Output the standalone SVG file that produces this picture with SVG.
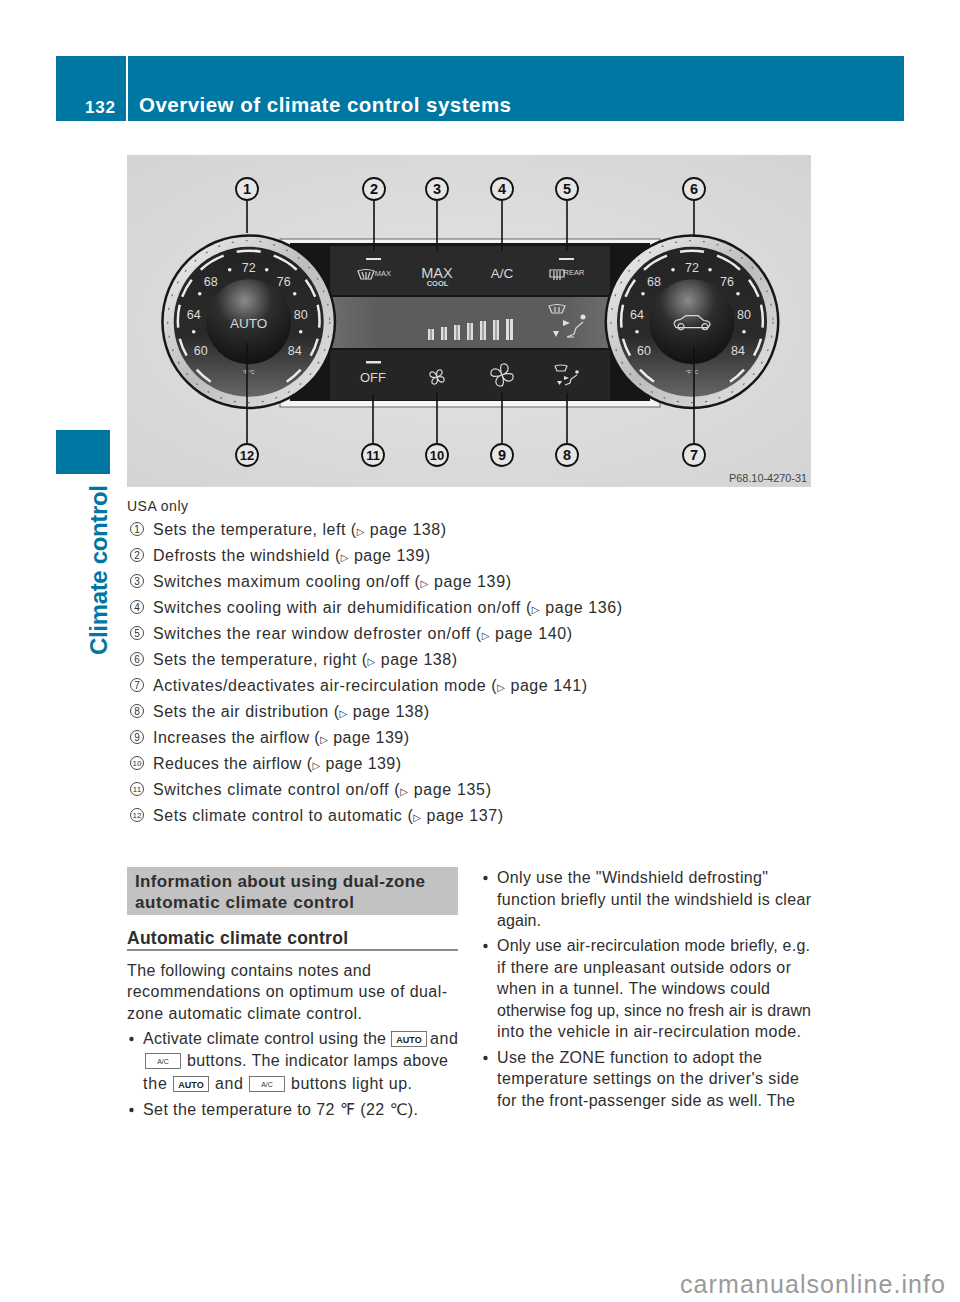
<svg xmlns="http://www.w3.org/2000/svg" xmlns:xlink="http://www.w3.org/1999/xlink" width="960" height="1302" viewBox="0 0 960 1302">
<style>
.t{font-family:"Liberation Sans",Arial,"DejaVu Sans",sans-serif;font-size:16px;fill:#2e2e2e}
.b{font-weight:bold}
.tri{font-family:"DejaVu Sans",sans-serif;font-size:10px}
.lm{fill:none;stroke:#333;stroke-width:.9}
.ln{font-family:"Liberation Sans",sans-serif;font-size:10px;fill:#333;text-anchor:middle}
.cc{fill:#e6e6e6;stroke:#111;stroke-width:1.8}
.cn{font-family:"Liberation Sans",sans-serif;font-size:14.5px;font-weight:bold;fill:#111;text-anchor:middle}
.con{stroke:#111;stroke-width:1.6;fill:none}
.dn{font-family:"Liberation Sans",sans-serif;font-size:12.5px;fill:#dcdcdc;text-anchor:middle}
.pl{font-family:"Liberation Sans",sans-serif;fill:#d6d6d6;text-anchor:middle}
.ic{fill:none;stroke:#d8d8d8;stroke-width:1.2}
.bar{fill:#dedede}
.barc{stroke:#666;stroke-width:1}
.key{fill:#fff;stroke:#555;stroke-width:.8}
.kt{font-family:"Liberation Sans",sans-serif;font-weight:bold;font-size:9px;fill:#222;text-anchor:middle}
.kt2{font-family:"Liberation Sans",sans-serif;font-size:7px;fill:#333;text-anchor:middle}
</style>
<defs>
<radialGradient id="bg" cx=".5" cy=".5" r=".7"><stop offset="0" stop-color="#e4e4e4"/><stop offset="1" stop-color="#d4d4d4"/></radialGradient>
<linearGradient id="ring" x1="0" y1="0" x2="1" y2="1"><stop offset="0" stop-color="#f2f2f2"/><stop offset=".5" stop-color="#bdbdbd"/><stop offset="1" stop-color="#e6e6e6"/></linearGradient>
<linearGradient id="face" x1="0" y1="0" x2="0" y2="1"><stop offset="0" stop-color="#242424"/><stop offset=".6" stop-color="#2a2a2a"/><stop offset="1" stop-color="#666"/></linearGradient>
<radialGradient id="knob" cx=".45" cy=".25" r=".8"><stop offset="0" stop-color="#8a8a8a"/><stop offset=".4" stop-color="#2e2e2e"/><stop offset="1" stop-color="#0e0e0e"/></radialGradient>
<linearGradient id="mid" x1="0" y1="0" x2="1" y2="0"><stop offset="0" stop-color="#7a7a7a"/><stop offset=".25" stop-color="#5c5c5c"/><stop offset=".75" stop-color="#5c5c5c"/><stop offset="1" stop-color="#7a7a7a"/></linearGradient>
<g id="dial">
<circle r="87.500" fill="#161616"/>
<circle r="85" fill="url(#ring)"/>
<circle r="81" fill="none" stroke="#6e6e6e" stroke-width="1.200" stroke-dasharray="2 12"/>
<circle r="75" fill="url(#face)"/>
<path d="M-12-70A71 71 0 0 1 12-70M-48-52A71 71 0 0 1-25-66M48-52A71 71 0 0 0 25-66M-66.500-25A71 71 0 0 1-57-42M66.500-25A71 71 0 0 0 57-42M-70.500 6A71 71 0 0 1-69-17M70.500 6A71 71 0 0 0 69-17M-62 34A71 71 0 0 1-69 17M62 34A71 71 0 0 0 69 17M-38 60A71 71 0 0 1-52 48M38 60A71 71 0 0 0 52 48" fill="none" stroke="#ececec" stroke-width="2.500"/>
<circle r="42.500" fill="url(#knob)"/>
<g fill="#f0f0f0">
<circle cx="-19" cy="-52" r="1.800"/><circle cx="18" cy="-52" r="1.800"/>
<circle cx="-49" cy="-28" r="1.800"/><circle cx="46" cy="-28" r="1.800"/>
<circle cx="-55" cy="10" r="1.800"/><circle cx="52" cy="10" r="1.800"/></g>
<text class="dn" y="-50">72</text>
<text class="dn" x="-38" y="-36">68</text>
<text class="dn" x="35" y="-36">76</text>
<text class="dn" x="-55" y="-3">64</text>
<text class="dn" x="52" y="-3">80</text>
<text class="dn" x="-48" y="33">60</text>
<text class="dn" x="46" y="33">84</text>
<text class="pl" y="52" font-size="5">°F °C</text>
</g>
</defs>

<g id="page">
<rect width="960" height="1302" fill="#fff"/>
<rect x="56" y="56" width="848" height="65" fill="#0077a3"/>
<rect x="126" y="56" width="2" height="65" fill="#fff"/>
<text x="85" y="113" class="t b" style="fill:#fff;font-size:17px" textLength="30">132</text>
<text x="139" y="112" class="t b" style="fill:#fff;font-size:20.500px" textLength="372">Overview of climate control systems</text>
<rect x="56" y="430" width="54" height="44" fill="#0077a3"/>
<text transform="translate(107,655) rotate(-90)" class="t b" style="fill:#0077a3;font-size:24px" textLength="170">Climate control</text>
</g>

<g id="photo">
<rect x="127" y="155" width="684" height="332" fill="url(#bg)"/>
<rect x="280" y="239" width="380" height="168" fill="#f4f4f4" stroke="#666" stroke-width="1"/>
<rect x="290" y="243" width="360" height="158" fill="#161616"/>
<rect x="330" y="246" width="280" height="49" fill="#2a2a2a"/>
<rect x="290" y="297" width="360" height="51" fill="url(#mid)"/>
<rect x="330" y="350" width="280" height="50" fill="#252525"/>
<g id="bars">
<rect class="bar" x="428" y="329" width="6" height="11"/><rect class="bar" x="441" y="327" width="6" height="13"/><rect class="bar" x="454" y="325" width="6" height="15"/><rect class="bar" x="467" y="323" width="6" height="17"/><rect class="bar" x="480" y="321" width="6" height="19"/><rect class="bar" x="493" y="320" width="6" height="20"/><rect class="bar" x="506" y="319" width="7" height="21"/>
<path class="barc" d="M431 329v11M444 327v13M457 325v15M470 323v17M483 321v19M496 320v20M509.500 319v21"/>
</g>
<g fill="#e4e4e4">
<rect x="366" y="258" width="15" height="2"/><rect x="366" y="361" width="15" height="2.500"/><rect x="559" y="258" width="15" height="2"/>
</g>
<g id="icons">
<path class="ic" d="M358 271q8-3 16 0l-3 8h-10zM362 272l2 6M366 272v7M370 272l-2 6"/>
<text class="pl" x="383" y="276" font-size="7.500">MAX</text>
<text class="pl" x="437" y="278" font-size="14.500">MAX</text>
<text class="pl" x="437.500" y="285.500" font-size="7.500" font-weight="bold">COOL</text>
<text class="pl" x="502" y="278" font-size="13.500">A/C</text>
<path class="ic" d="M550 270h14v7h-14zM554 271v9M557 271v9M560 271v9"/>
<text class="pl" x="574" y="274.500" font-size="7.500">REAR</text>
<text class="pl" x="373" y="382" font-size="13">OFF</text>
<path class="ic" stroke-width="1.300" d="M437 377c-2-7-8-6-7-2 0 2 3 3 7 2zM437 377c7-2 6-8 2-7-2 0-3 3-2 7zM437 377c2 7 8 6 7 2 0-2-3-3-7-2zM437 377c-7 2-6 8-2 7 2 0 3-3 2-7z"/>
<path class="ic" stroke-width="1.500" d="M502 375c-3-9-12-7-11-1 0 3 6 3 11 1zM502 375c9-3 7-12 1-11-3 0-3 6-1 11zM502 375c3 9 12 7 11 1 0-3-6-3-11-1zM502 375c-9 3-7 12-1 11 3 0 3-6 1-11z"/>
<path class="ic" d="M549 306q8-3 16 0l-3 7h-10zM555 307v5M559 307v5"/>
<path class="ic" stroke-width="2.500" d="M567 337l7-3 2-6 7-6M567 337h7"/>
<circle cx="583" cy="317" r="2.500" fill="#e0e0e0"/>
<path d="M563 320l7 3-7 3zM553 331h6l-3 6z" fill="#e0e0e0"/>
<path class="ic" d="M555 366q6-2 12 0l-2 5h-8z"/>
<path class="ic" stroke-width="2" d="M565 385l5-2 1-4 6-4"/>
<circle cx="577" cy="372" r="1.800" fill="#e0e0e0"/>
<path d="M564 376l5 2-5 2zM557 381h5l-2.500 4z" fill="#e0e0e0"/>
</g>
<g id="dial-left" transform="translate(248.700,321.700)"><use xlink:href="#dial" href="#dial"/>
<text class="pl" y="6.500" font-size="13.500">AUTO</text></g>
<g id="dial-right" transform="translate(692,321.700)"><use xlink:href="#dial" href="#dial"/>
<path class="ic" d="M-18 2q1-4 6-4l6-4h12l6 5q6 0 6 4l-2 3h-32zM-14 5a3 3 0 1 0 6 0a3 3 0 1 0-6 0M10 5a3 3 0 1 0 6 0a3 3 0 1 0-6 0"/></g>
<text x="729" y="482" font-family="Liberation Sans,sans-serif" font-size="10" fill="#444" textLength="78" lengthAdjust="spacingAndGlyphs">P68.10-4270-31</text>
</g>

<g id="connectors">
<path class="con" d="M247 201v32M374 201v50M437 201v50M502 201v50M567 201v50M694 201v36M247 443V343M373 443v-49M437 443v-50M502 443v-50M567 443v-50M694 443V347"/>
</g>
<g id="callout-1"><circle class="cc" cx="247" cy="189" r="11"/><text class="cn" x="247" y="194">1</text></g>
<g id="callout-2"><circle class="cc" cx="374" cy="189" r="11"/><text class="cn" x="374" y="194">2</text></g>
<g id="callout-3"><circle class="cc" cx="437" cy="189" r="11"/><text class="cn" x="437" y="194">3</text></g>
<g id="callout-4"><circle class="cc" cx="502" cy="189" r="11"/><text class="cn" x="502" y="194">4</text></g>
<g id="callout-5"><circle class="cc" cx="567" cy="189" r="11"/><text class="cn" x="567" y="194">5</text></g>
<g id="callout-6"><circle class="cc" cx="694" cy="189" r="11"/><text class="cn" x="694" y="194">6</text></g>
<g id="callout-7"><circle class="cc" cx="694" cy="455" r="11"/><text class="cn" x="694" y="460">7</text></g>
<g id="callout-8"><circle class="cc" cx="567" cy="455" r="11"/><text class="cn" x="567" y="460">8</text></g>
<g id="callout-9"><circle class="cc" cx="502" cy="455" r="11"/><text class="cn" x="502" y="460">9</text></g>
<g id="callout-10"><circle class="cc" cx="437" cy="455" r="11"/><text class="cn" x="437" y="460" style="font-size:13px">10</text></g>
<g id="callout-11"><circle class="cc" cx="373" cy="455" r="11"/><text class="cn" x="373" y="460" style="font-size:13px">11</text></g>
<g id="callout-12"><circle class="cc" cx="247" cy="455" r="11"/><text class="cn" x="247" y="460" style="font-size:13px">12</text></g>

<g id="legend">
<text class="t" x="127" y="511" style="font-size:14px" textLength="61">USA only</text>
<g id="m1"><circle class="lm" cx="137" cy="529" r="6.500"/><text class="ln" x="137" y="532.500">1</text></g><text class="t" x="153" y="535" textLength="293">Sets the temperature, left (<tspan class="tri">▷</tspan> page 138)</text>
<g id="m2"><circle class="lm" cx="137" cy="555" r="6.500"/><text class="ln" x="137" y="558.500">2</text></g><text class="t" x="153" y="561" textLength="277">Defrosts the windshield (<tspan class="tri">▷</tspan> page 139)</text>
<g id="m3"><circle class="lm" cx="137" cy="581" r="6.500"/><text class="ln" x="137" y="584.500">3</text></g><text class="t" x="153" y="587" textLength="358">Switches maximum cooling on/off (<tspan class="tri">▷</tspan> page 139)</text>
<g id="m4"><circle class="lm" cx="137" cy="607" r="6.500"/><text class="ln" x="137" y="610.500">4</text></g><text class="t" x="153" y="613" textLength="469">Switches cooling with air dehumidification on/off (<tspan class="tri">▷</tspan> page 136)</text>
<g id="m5"><circle class="lm" cx="137" cy="633" r="6.500"/><text class="ln" x="137" y="636.500">5</text></g><text class="t" x="153" y="639" textLength="419">Switches the rear window defroster on/off (<tspan class="tri">▷</tspan> page 140)</text>
<g id="m6"><circle class="lm" cx="137" cy="659" r="6.500"/><text class="ln" x="137" y="662.500">6</text></g><text class="t" x="153" y="665" textLength="304">Sets the temperature, right (<tspan class="tri">▷</tspan> page 138)</text>
<g id="m7"><circle class="lm" cx="137" cy="685" r="6.500"/><text class="ln" x="137" y="688.500">7</text></g><text class="t" x="153" y="691" textLength="434">Activates/deactivates air-recirculation mode (<tspan class="tri">▷</tspan> page 141)</text>
<g id="m8"><circle class="lm" cx="137" cy="711" r="6.500"/><text class="ln" x="137" y="714.500">8</text></g><text class="t" x="153" y="717" textLength="276">Sets the air distribution (<tspan class="tri">▷</tspan> page 138)</text>
<g id="m9"><circle class="lm" cx="137" cy="737" r="6.500"/><text class="ln" x="137" y="740.500">9</text></g><text class="t" x="153" y="743" textLength="256">Increases the airflow (<tspan class="tri">▷</tspan> page 139)</text>
<g id="m10"><circle class="lm" cx="137" cy="763" r="6.500"/><text class="ln" x="137" y="766" style="font-size:8px">10</text></g><text class="t" x="153" y="769" textLength="248">Reduces the airflow (<tspan class="tri">▷</tspan> page 139)</text>
<g id="m11"><circle class="lm" cx="137" cy="789" r="6.500"/><text class="ln" x="137" y="792" style="font-size:8px">11</text></g><text class="t" x="153" y="795" textLength="338">Switches climate control on/off (<tspan class="tri">▷</tspan> page 135)</text>
<g id="m12"><circle class="lm" cx="137" cy="815" r="6.500"/><text class="ln" x="137" y="818" style="font-size:8px">12</text></g><text class="t" x="153" y="821" textLength="350">Sets climate control to automatic (<tspan class="tri">▷</tspan> page 137)</text>
</g>

<g id="left-column">
<rect x="127" y="867" width="331" height="48" fill="#c2c2c2"/>
<text class="t b" x="135" y="887" style="font-size:17px" textLength="290">Information about using dual-zone</text>
<text class="t b" x="135" y="908" style="font-size:17px" textLength="219">automatic climate control</text>
<text class="t b" x="127" y="944" style="font-size:17.500px" textLength="221">Automatic climate control</text>
<rect x="127" y="949" width="331" height="2" fill="#8a8a8a"/>
<text class="t" x="127" y="976" textLength="244">The following contains notes and</text>
<text class="t" x="127" y="997" textLength="320">recommendations on optimum use of dual-</text>
<text class="t" x="127" y="1019" textLength="235">zone automatic climate control.</text>
<circle cx="131.500" cy="1039" r="2.200" fill="#2e2e2e"/>
<text class="t" x="143" y="1044" textLength="243">Activate climate control using the</text>
<g id="key1"><rect class="key" x="391.500" y="1031.500" width="35" height="15"/><text class="kt" x="409" y="1043">AUTO</text></g>
<text class="t" x="430" y="1044" textLength="28">and</text>
<g id="key2"><rect class="key" x="145.500" y="1053.500" width="35" height="15"/><text class="kt2" x="163" y="1064">A/C</text></g>
<text class="t" x="187" y="1066" textLength="261">buttons. The indicator lamps above</text>
<text class="t" x="143" y="1089" textLength="24">the</text>
<g id="key3"><rect class="key" x="173.500" y="1076.500" width="35" height="15"/><text class="kt" x="191" y="1088">AUTO</text></g>
<text class="t" x="215" y="1089" textLength="28">and</text>
<g id="key4"><rect class="key" x="249.500" y="1076.500" width="35" height="15"/><text class="kt2" x="267" y="1087">A/C</text></g>
<text class="t" x="291" y="1089" textLength="121">buttons light up.</text>
<circle cx="131.500" cy="1110" r="2.200" fill="#2e2e2e"/>
<text class="t" x="143" y="1115" textLength="275">Set the temperature to 72 ℉ (22 ℃).</text>
</g>

<g id="right-column">
<circle cx="485.500" cy="878" r="2.200" fill="#2e2e2e"/>
<text class="t" x="497" y="883" textLength="271">Only use the "Windshield defrosting"</text>
<text class="t" x="497" y="905" textLength="314">function briefly until the windshield is clear</text>
<text class="t" x="497" y="926" textLength="44">again.</text>
<circle cx="485.500" cy="946" r="2.200" fill="#2e2e2e"/>
<text class="t" x="497" y="951" textLength="313">Only use air-recirculation mode briefly, e.g.</text>
<text class="t" x="497" y="973" textLength="294">if there are unpleasant outside odors or</text>
<text class="t" x="497" y="994" textLength="273">when in a tunnel. The windows could</text>
<text class="t" x="497" y="1016" textLength="314">otherwise fog up, since no fresh air is drawn</text>
<text class="t" x="497" y="1037" textLength="304">into the vehicle in air-recirculation mode.</text>
<circle cx="485.500" cy="1058" r="2.200" fill="#2e2e2e"/>
<text class="t" x="497" y="1063" textLength="265">Use the ZONE function to adopt the</text>
<text class="t" x="497" y="1084" textLength="302">temperature settings on the driver's side</text>
<text class="t" x="497" y="1106" textLength="298">for the front-passenger side as well. The</text>
</g>
<text id="watermark" x="680" y="1293" font-family="Liberation Sans,sans-serif" font-size="25" fill="#9a9a9a" textLength="265">carmanualsonline.info</text>
</svg>
